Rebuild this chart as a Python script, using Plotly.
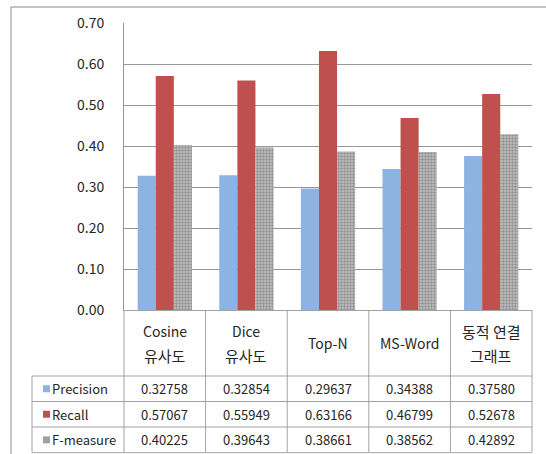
import plotly.graph_objects as go

# ---- data -------------------------------------------------------------
categories = ["Cosine 유사도", "Dice 유사도", "Top-N", "MS-Word", "동적 연결 그래프"]
header_lines = [["Cosine", "유사도"], ["Dice", "유사도"], ["Top-N"], ["MS-Word"], ["동적 연결", "그래프"]]
series_names = ["Precision", "Recall", "F-measure"]
precision = [0.32758, 0.32854, 0.29637, 0.34388, 0.37580]
recall = [0.57067, 0.55949, 0.63166, 0.46799, 0.52678]
fmeasure = [0.40225, 0.39643, 0.38661, 0.38562, 0.42892]
value_labels = [
    ["0.32758", "0.32854", "0.29637", "0.34388", "0.37580"],
    ["0.57067", "0.55949", "0.63166", "0.46799", "0.52678"],
    ["0.40225", "0.39643", "0.38661", "0.38562", "0.42892"],
]

# ---- geometry (pixels) ------------------------------------------------
W, H = 546, 454
PL, PR, PT, PB = 124, 532, 23, 310          # plot area edges
PW, PH = PR - PL, PB - PT
ROW_EDGES = [310, 376, 401.5, 427, 452.7]   # header row + three data rows
LEG_LEFT = 32
FRAME_L, FRAME_T = 11, 7

def fx(p):
    return (p - PL) / PW

def fy(p):
    return (PB - p) / PH

FONT = "Noto Sans CJK KR, Noto Sans, sans-serif"
TXT = "#262626"
GRID = "#979797"
TLINE = "#a2a2a2"

BLUE = "#8DB3E2"
RED = "#C0504D"
GRAY_BG = "#c2c2c2"
GRAY_FG = "#5e5e5e"

fig = go.Figure()
fig.add_trace(go.Bar(name=series_names[0], x=categories, y=precision,
                     marker=dict(color=BLUE, line=dict(width=0))))
fig.add_trace(go.Bar(name=series_names[1], x=categories, y=recall,
                     marker=dict(color=RED, line=dict(width=0))))
fig.add_trace(go.Bar(name=series_names[2], x=categories, y=fmeasure,
                     marker=dict(color=GRAY_BG, line=dict(width=0),
                                 pattern=dict(shape=".", fgcolor=GRAY_FG, bgcolor=GRAY_BG,
                                              size=3, solidity=0.5))))

shapes = []
annotations = []

def hline(y, x0, x1, color=TLINE):
    shapes.append(dict(type="line", xref="paper", yref="paper",
                       x0=fx(x0), x1=fx(x1), y0=fy(y), y1=fy(y),
                       line=dict(color=color, width=1)))

def vline(x, y0, y1, color=TLINE):
    shapes.append(dict(type="line", xref="paper", yref="paper",
                       x0=fx(x), x1=fx(x), y0=fy(y0), y1=fy(y1),
                       line=dict(color=color, width=1)))

# outer chart frame
hline(FRAME_T, FRAME_L, W + 20, color="#8a8a8a")
vline(FRAME_L, FRAME_T, H + 20, color="#8a8a8a")

# data table grid
col_w = PW / len(categories)
for i in range(len(categories) + 1):
    vline(PL + i * col_w, ROW_EDGES[0], ROW_EDGES[-1])
for y in ROW_EDGES[1:]:
    hline(y, LEG_LEFT, PR)
vline(LEG_LEFT, ROW_EDGES[1], ROW_EDGES[-1])

# category headers
header_mid = (ROW_EDGES[0] + ROW_EDGES[1]) / 2
for cat, lines in zip(categories, header_lines):
    n = len(lines)
    for k, line in enumerate(lines):
        y = header_mid + (k - (n - 1) / 2) * 24
        is_hangul = any("\uac00" <= ch <= "\ud7a3" for ch in line)
        annotations.append(dict(x=cat, xref="x", y=fy(y), yref="paper",
                                text=line, showarrow=False, xanchor="center", yanchor="middle",
                                font=dict(size=15 if is_hangul else 14, color=TXT, family=FONT)))

# table rows: legend key + values
key_colors = [BLUE, RED, "#a0a0a0"]
for r, name in enumerate(series_names):
    yc = (ROW_EDGES[r + 1] + ROW_EDGES[r + 2]) / 2
    shapes.append(dict(type="rect", xref="paper", yref="paper",
                       x0=fx(43), x1=fx(50), y0=fy(yc - 3.5), y1=fy(yc + 3.5),
                       fillcolor=key_colors[r], line=dict(width=0)))
    annotations.append(dict(x=fx(50), xref="paper", y=fy(yc), yref="paper",
                            text=name, showarrow=False, xanchor="left", yanchor="middle",
                            font=dict(size=13, color=TXT, family=FONT)))
    for cat, label in zip(categories, value_labels[r]):
        annotations.append(dict(x=cat, xref="x", y=fy(yc), yref="paper",
                                text=label, showarrow=False, xanchor="center", yanchor="middle",
                                font=dict(size=13, color=TXT, family=FONT)))

fig.update_layout(
    width=W, height=H,
    margin=dict(l=PL, r=W - PR, t=PT, b=H - PB, pad=0),
    paper_bgcolor="white", plot_bgcolor="white",
    barmode="group", bargap=0.335, bargroupgap=0,
    showlegend=False,
    font=dict(family=FONT, color=TXT),
    shapes=shapes, annotations=annotations,
    xaxis=dict(showticklabels=False, ticks="", showgrid=False, zeroline=False,
               showline=True, linecolor=TLINE, linewidth=1, fixedrange=True),
    yaxis=dict(range=[0, 0.7], dtick=0.1, tickformat=".2f", ticks="",
               showgrid=True, gridcolor=GRID, gridwidth=1, zeroline=False,
               showline=True, linecolor=GRID, linewidth=1,
               ticklabelstandoff=16,
               tickfont=dict(size=14, color=TXT, family=FONT), fixedrange=True),
)

fig.write_html("out.html")
